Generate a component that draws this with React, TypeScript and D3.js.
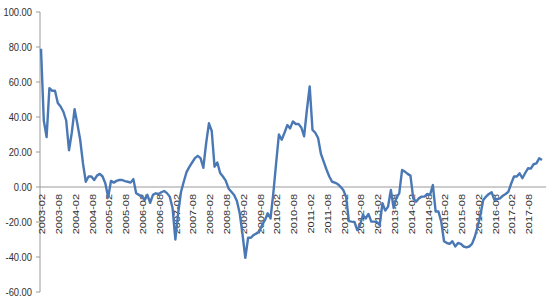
import React from "react";
import * as d3 from "d3";

const startMonth = "2003-02";
const values: number[] = [
  79, 38, 28.5, 56.5, 55, 55, 48, 46, 43, 38, 21, 31, 44.5, 36, 27, 13.5, 3, 6, 6, 4,
  6.5, 7.5, 6, 2, -6, 3.5, 2.5, 3.5, 4, 4, 3.4, 3, 2.5, 4.5, -3.6, -4.5, -5.5, -7.5, -4.5, -9,
  -4.5, -3.6, -4, -3, -2.3, -3.5, -5.5, -12, -30, -15, -3, 3, 8.5, 11.5, 14, 16.5, 17.8, 16.5, 11, 25,
  36.4, 32, 11.6, 14, 8, 6, 3.6, -0.8, -2.7, -4.6, -8, -15, -27, -40.5, -29, -29, -27.4, -26.5, -25.5, -21.7,
  -19, -15, -18, -3.6, 13.5, 30, 27, 31, 35.4, 33.5, 37.5, 36, 36, 34, 29, 44, 57.5, 32.6, 31, 28,
  19, 14.5, 10, 6, 3, 2.5, 1.7, 0.2, -1.7, -5.5, -19.5, -19.8, -20, -24.6, -21.7, -16, -18, -15.4, -19.8, -19.8,
  -20, -21.7, -9.3, -13.5, -11.2, -1.7, -12, -6, -3.6, 9.7, 8.8, 7.5, 6.5, -6.5, -8.4, -6.5, -5.5, -5.5, -4, -4.5,
  1.1, -14, -14, -19.8, -31, -32, -32.5, -31, -34, -32, -32.5, -34, -34.5, -34, -32.5, -28.4, -22.7, -16, -7.4, -5.5,
  -4, -3, -7.4, -7, -6.5, -5, -4, -2.7, 2, 6, 6, 7.8, 5, 8, 10.7, 10.5, 13, 13.5, 16.4, 15.4,
];
const xTickLabels: string[] = [
  "2003-02", "2003-08", "2004-02", "2004-08", "2005-02", "2005-08", "2006-02", "2006-08",
  "2007-02", "2007-08", "2008-02", "2008-08", "2009-02", "2009-08", "2010-02", "2010-08",
  "2011-02", "2011-08", "2012-02", "2012-08", "2013-02", "2013-08", "2014-02", "2014-08",
  "2015-02", "2015-08", "2016-02", "2016-08", "2017-02", "2017-08",
];
const yTicks: number[] = [100, 80, 60, 40, 20, 0, -20, -40, -60];

export default function App() {
  const W = 550, H = 300;
  const y = d3.scaleLinear().domain([-60, 100]).range([292, 12]);
  const x = d3.scaleLinear().domain([0, values.length - 1]).range([41, 542]);
  const line = d3.line<number>().x((_, i) => x(i)).y((d) => y(d));
  const font = "'Liberation Sans', Arial, sans-serif";
  const sx = 0.85;
  const axisColor = "#9a9a9a";
  const textColor = "#303030";
  return (
    <svg width={W} height={H} style={{ position: "absolute", left: 0, top: 0, background: "#fff" }}>
      <line x1={40} x2={40} y1={y(100)} y2={y(-60)} stroke={axisColor} strokeWidth={1} />
      {yTicks.map((t) => (
        <g key={t}>
          <line x1={36} x2={40} y1={y(t)} y2={y(t)} stroke={axisColor} strokeWidth={1} />
          <text
            transform={`translate(32,${y(t)}) scale(${sx},1)`}
            textAnchor="end"
            dy="0.35em"
            fontFamily={font}
            fontSize={11}
            fill={textColor}
          >
            {t.toFixed(2)}
          </text>
        </g>
      ))}
      <line x1={40} x2={546} y1={y(0)} y2={y(0)} stroke={axisColor} strokeWidth={1} />
      {xTickLabels.map((lab, k) => {
        const px = x(k * 6) + 1;
        return (
          <text
            key={lab}
            transform={`translate(${px},${y(0) + 7}) scale(${sx},1) rotate(-90)`}
            textAnchor="end"
            dy="0.35em"
            fontFamily={font}
            fontSize={11}
            fill={textColor}
          >
            {lab}
          </text>
        );
      })}
      <path d={line(values) || ""} fill="none" stroke="#4a78b5" strokeWidth={2.4} strokeLinejoin="round" />
    </svg>
  );
}
